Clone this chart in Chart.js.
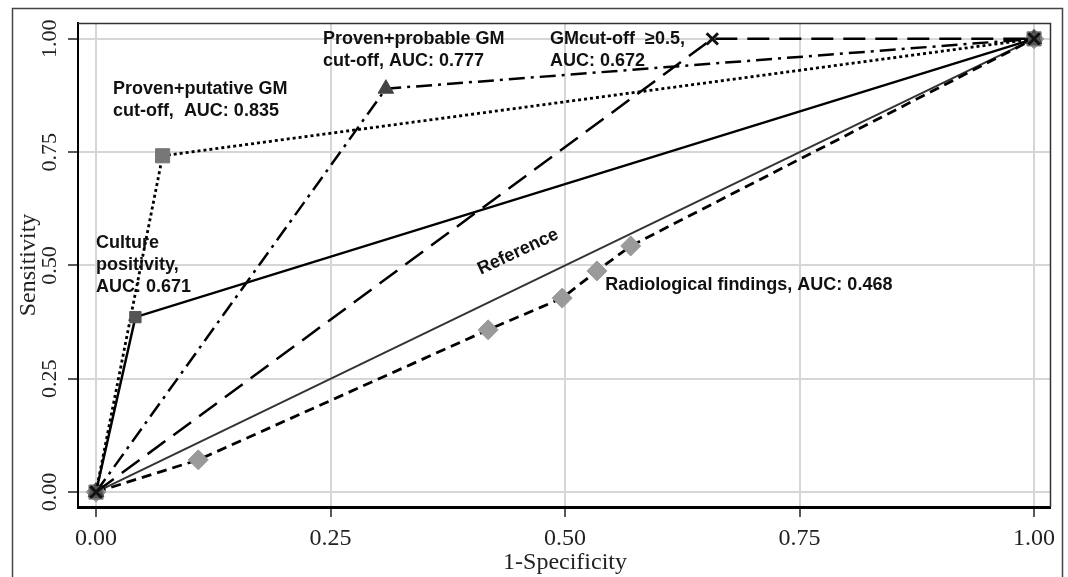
<!DOCTYPE html>
<html>
<head>
<meta charset="utf-8">
<script src="https://cdn.jsdelivr.net/npm/chart.js@4"></script>
<style>
  html, body { margin: 0; padding: 0; background: #fff; }
  #wrap { width: 1068px; height: 577px; }
</style>
</head>
<body>
<div id="wrap"><canvas id="roc"></canvas></div>
<script>
// ROC curves, values (x = 1-specificity, y = sensitivity)
const refX = [0, 1];
const refY = [0, 1];
const cultureX = [0, 0.042, 1];
const cultureY = [0, 0.386, 1];
const putativeX = [0, 0.071, 1];
const putativeY = [0, 0.742, 1];
const probableX = [0, 0.309, 1];
const probableY = [0, 0.890, 1];
const gmX = [0, 0.657, 1];
const gmY = [0, 1, 1];
const radioX = [0, 0.109, 0.418, 0.497, 0.534, 0.570, 1];
const radioY = [0, 0.071, 0.358, 0.428, 0.488, 0.543, 1];

const tickValues = [0, 0.25, 0.5, 0.75, 1];
const tickLabels = ['0.00', '0.25', '0.50', '0.75', '1.00'];

const xTitle = '1-Specificity';
const yTitle = 'Sensitivity';

// annotation text, anchored in data units
const notes = [
    { lines: ['Proven+putative GM', 'cut-off,  AUC: 0.835'], x: 0.018, y: 0.890 },
    { lines: ['Proven+probable GM', 'cut-off, AUC: 0.777'], x: 0.242, y: 1.0 },
    { lines: ['GMcut-off  \u22650.5,', 'AUC: 0.672'], x: 0.484, y: 1.0 },
    { lines: ['Culture', 'positivity,', 'AUC: 0.671'], x: 0.0, y: 0.550 },
    { lines: ['Radiological findings, AUC: 0.468'], x: 0.543, y: 0.457 }
];
const refNote = { text: 'Reference', x: 0.450, y: 0.530 };

function pts(xs, ys) {
    return xs.map((x, i) => ({ x: x, y: ys[i] }));
}

const serif = '"Liberation Serif", "Times New Roman", serif';
const sans = '"Liberation Sans", Arial, sans-serif';

const decor = {
    id: 'decor',
    afterDraw(chart) {
        const ctx = chart.ctx;
        const area = chart.chartArea;
        const xs = chart.scales.x;
        const ys = chart.scales.y;
        ctx.save();

        // outer frame
        ctx.strokeStyle = '#444';
        ctx.lineWidth = 1.5;
        ctx.strokeRect(12.5, 8.5, 1050, 620);

        // top and right edges of the plot box
        ctx.strokeStyle = '#333';
        ctx.beginPath();
        ctx.moveTo(area.left, area.top + 0.5);
        ctx.lineTo(area.right + 0.5, area.top + 0.5);
        ctx.lineTo(area.right + 0.5, area.bottom);
        ctx.stroke();

        // y tick labels, rotated
        ctx.fillStyle = '#222';
        ctx.font = '22px ' + serif;
        ctx.textAlign = 'center';
        ctx.textBaseline = 'middle';
        tickValues.forEach((v, i) => {
            ctx.save();
            ctx.translate(50, ys.getPixelForValue(v));
            ctx.rotate(-Math.PI / 2);
            ctx.fillText(tickLabels[i], 0, 0);
            ctx.restore();
        });

        // axis titles
        ctx.font = '24px ' + serif;
        ctx.save();
        ctx.translate(29, (area.top + area.bottom) / 2);
        ctx.rotate(-Math.PI / 2);
        ctx.fillText(yTitle, 0, 0);
        ctx.restore();
        ctx.fillText(xTitle, xs.getPixelForValue(0.5), 563);

        // annotations
        ctx.fillStyle = '#111';
        ctx.font = 'bold 18px ' + sans;
        ctx.textAlign = 'left';
        notes.forEach(n => {
            const px = xs.getPixelForValue(n.x);
            const py = ys.getPixelForValue(n.y);
            n.lines.forEach((t, i) => ctx.fillText(t, px, py + i * 22));
        });

        ctx.save();
        ctx.translate(xs.getPixelForValue(refNote.x), ys.getPixelForValue(refNote.y));
        ctx.rotate(-25 * Math.PI / 180);
        ctx.textAlign = 'center';
        ctx.fillText(refNote.text, 0, 0);
        ctx.restore();

        ctx.restore();
    }
};

function series(xs, ys, opts) {
    return Object.assign({
        data: pts(xs, ys),
        showLine: true,
        borderColor: '#000',
        borderWidth: 2.5,
        fill: false,
        pointRadius: 0,
        pointBorderWidth: 1
    }, opts);
}

new Chart(document.getElementById('roc').getContext('2d'), {
    type: 'scatter',
    data: {
        datasets: [
            series(refX, refY, { label: 'Reference', borderColor: '#333', borderWidth: 2, order: 6 }),
            series(radioX, radioY, {
                label: 'Radiological findings',
                order: 5,
                borderDash: [10, 6],
                borderWidth: 2.8,
                pointStyle: 'rectRot', pointRadius: 10,
                pointBackgroundColor: '#9a9a9a', pointBorderColor: '#9a9a9a'
            }),
            series(gmX, gmY, {
                label: 'GM cut-off >= 0.5',
                order: 1,
                borderDash: [22, 10],
                pointStyle: 'crossRot', pointRadius: 8, pointBorderWidth: 3,
                pointBorderColor: '#111'
            }),
            series(probableX, probableY, {
                label: 'Proven+probable',
                order: 3,
                borderDash: [16, 6, 3, 6],
                pointStyle: 'triangle', pointRadius: 9,
                pointBackgroundColor: '#444', pointBorderColor: '#444'
            }),
            series(putativeX, putativeY, {
                label: 'Proven+putative',
                order: 4,
                borderDash: [3, 3],
                borderWidth: 2.8,
                pointStyle: 'rect', pointRadius: 10,
                pointBackgroundColor: '#777', pointBorderColor: '#777'
            }),
            series(cultureX, cultureY, {
                label: 'Culture positivity',
                order: 2,
                pointStyle: 'rect', pointRadius: 8,
                pointBackgroundColor: '#555', pointBorderColor: '#555'
            })
        ]
    },
    options: {
        responsive: true,
        maintainAspectRatio: false,
        animation: false,
        layout: { padding: { top: 23, right: 18, left: 0, bottom: 0 } },
        plugins: {
            legend: { display: false },
            tooltip: { enabled: false }
        },
        scales: {
            x: {
                type: 'linear',
                min: -0.0192,
                max: 1.017,
                afterBuildTicks: s => { s.ticks = tickValues.map(v => ({ value: v })); },
                afterFit: s => { s.height = 70; },
                grid: {
                    color: '#d6d6d6',
                    lineWidth: 2,
                    tickLength: 10,
                    tickColor: '#222',
                    tickWidth: 1.5
                },
                border: { color: '#000', width: 3 },
                ticks: {
                    padding: 7,
                    color: '#222',
                    font: { family: serif, size: 24 },
                    callback: v => tickLabels[tickValues.indexOf(v)]
                }
            },
            y: {
                type: 'linear',
                min: -0.033,
                max: 1.035,
                afterBuildTicks: s => { s.ticks = tickValues.map(v => ({ value: v })); },
                afterFit: s => { s.width = 78; },
                grid: {
                    color: '#d6d6d6',
                    lineWidth: 2,
                    tickLength: 10,
                    tickColor: '#222',
                    tickWidth: 1.5
                },
                border: { color: '#000', width: 2 },
                ticks: { display: false }
            }
        }
    },
    plugins: [decor]
});
</script>
</body>
</html>
